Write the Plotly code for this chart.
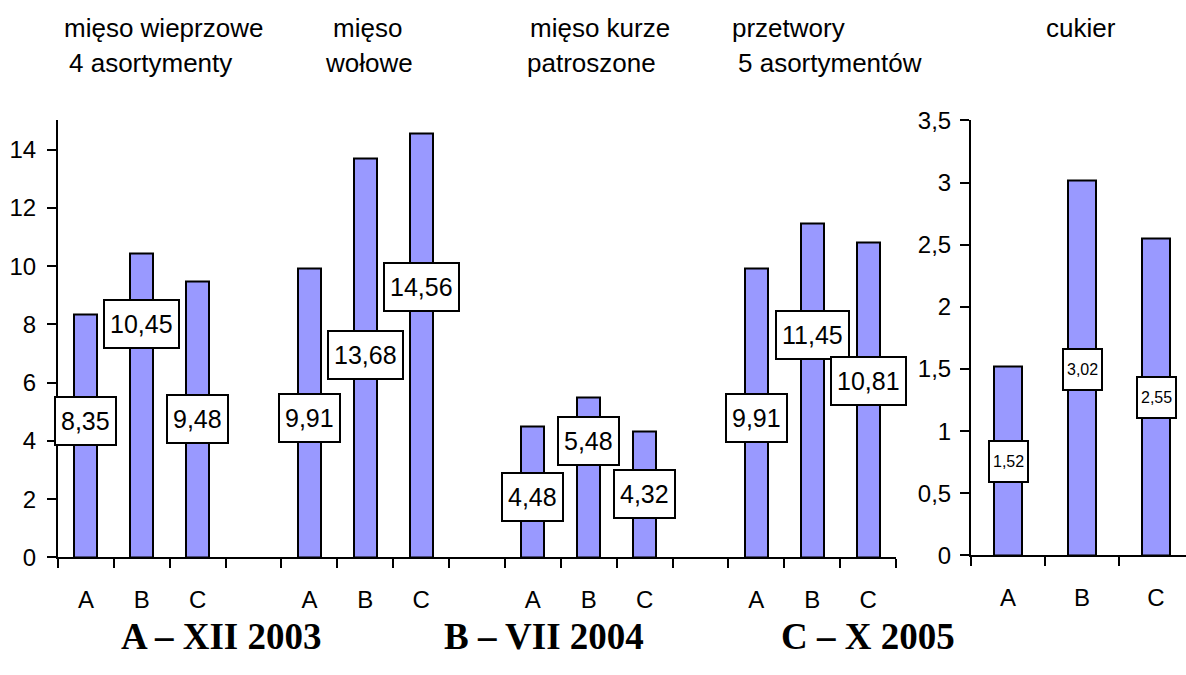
import plotly.graph_objects as go

# ---- data ----
groups = ["mięso wieprzowe", "mięso wołowe", "mięso kurze patroszone", "przetwory"]
periods = ["A", "B", "C"]
pork = [8.35, 10.45, 9.48]
beef = [9.91, 13.68, 14.56]
chicken = [4.48, 5.48, 4.32]
processed = [9.91, 11.45, 10.81]
sugar = [1.52, 3.02, 2.55]
left_series = [pork, beef, chicken, processed]
# label box vertical positions (data units)
label_y_left = [[4.7, 8.0, 4.76], [4.78, 6.95, 9.29], [2.06, 3.99, 2.17], [4.8, 7.64, 6.05]]
label_y_sugar = [0.76, 1.5, 1.27]
legend_items = ["A – XII 2003", "B – VII 2004", "C – X 2005"]

BAR = "#9999FF"
FONT = "Liberation Sans, Arial, sans-serif"
W, H = 1186, 675


def py(p):
    # vertical pixel (from top) -> paper fraction, compensating the observed render compression
    return 1 - (338 + (p - 338) / 0.96) / H


def fmt(v):
    return f"{v:.2f}".replace(".", ",")


fig = go.Figure()

xs, ys = [], []
for g, vals in enumerate(left_series):
    for i, v in enumerate(vals):
        xs.append(g * 4 + i)
        ys.append(v)
fig.add_trace(go.Bar(x=xs, y=ys, width=0.41, marker=dict(color=BAR, line=dict(color="black", width=2)),
                     xaxis="x", yaxis="y", showlegend=False, hoverinfo="skip"))
fig.add_trace(go.Bar(x=list(range(3)), y=sugar, width=0.39, marker=dict(color=BAR, line=dict(color="black", width=2)),
                     xaxis="x2", yaxis="y2", showlegend=False, hoverinfo="skip"))

annotations = []
for g, vals in enumerate(left_series):
    for i, v in enumerate(vals):
        annotations.append(dict(x=g * 4 + i, y=label_y_left[g][i], xref="x", yref="y", text=fmt(v),
                                showarrow=False, font=dict(family=FONT, size=25, color="black"),
                                bgcolor="white", bordercolor="black", borderwidth=2, borderpad=5, height=36))
for i, v in enumerate(sugar):
    annotations.append(dict(x=i, y=label_y_sugar[i], xref="x2", yref="y2", text=fmt(v),
                            showarrow=False, font=dict(family=FONT, size=16, color="black"),
                            bgcolor="white", bordercolor="black", borderwidth=2, borderpad=3, height=33))

titles = [
    ("mięso wieprzowe", 163, 28), ("4 asortymenty", 150, 63),
    ("mięso", 367, 28), ("wołowe", 369, 63),
    ("mięso kurze", 600, 28), ("patroszone", 591, 63),
    ("przetwory", 788, 28), ("5 asortymentów", 830, 63),
    ("cukier", 1081, 28),
]
for t, px, pyy in titles:
    annotations.append(dict(x=px / W, y=py(pyy), xref="paper", yref="paper", text=t, showarrow=False,
                            xanchor="center", yanchor="middle", font=dict(family=FONT, size=26, color="black")))
for t, px in zip(legend_items, [221, 544, 868]):
    annotations.append(dict(x=px / W, y=py(636), xref="paper", yref="paper", text="<b>" + t + "</b>",
                            showarrow=False, xanchor="center", yanchor="middle",
                            font=dict(family="Liberation Serif, Times New Roman, serif", size=37, color="black")))

centers_left = list(range(15))
ticktext_left = [periods[c % 4] if c % 4 < 3 else "" for c in centers_left]

axis_common = dict(showline=True, linecolor="black", linewidth=2, showgrid=False, zeroline=False,
                   tickfont=dict(family=FONT, size=24, color="black"))

fig.update_layout(
    width=W, height=H,
    margin=dict(l=0, r=0, t=0, b=0),
    paper_bgcolor="white", plot_bgcolor="white",
    separators=", ",
    bargap=0,
    xaxis=dict(domain=[58 / W, 896 / W], range=[-0.5, 14.5], tickmode="array",
               tickvals=centers_left, ticktext=ticktext_left, ticks="", ticklabelstandoff=20,
               minor=dict(tickmode="array", tickvals=[c - 0.5 for c in range(16)], ticks="outside",
                          ticklen=9, tickwidth=2, tickcolor="black"),
               anchor="y", **axis_common),
    yaxis=dict(domain=[py(557), py(120)], range=[0, 15], tickmode="array",
               tickvals=[0, 2, 4, 6, 8, 10, 12, 14], ticks="outside", ticklen=9, tickwidth=2,
               tickcolor="black", ticklabelstandoff=6, anchor="x", **axis_common),
    xaxis2=dict(domain=[971 / W, 1.0], range=[-0.5, 2.405], tickmode="array",
                tickvals=[0, 1, 2], ticktext=periods, ticks="", ticklabelstandoff=20,
                minor=dict(tickmode="array", tickvals=[-0.5, 0.5, 1.5], ticks="outside",
                           ticklen=9, tickwidth=2, tickcolor="black"),
                anchor="y2", **axis_common),
    yaxis2=dict(domain=[py(555), py(120)], range=[0, 3.5], tickmode="array",
                tickvals=[0, 0.5, 1, 1.5, 2, 2.5, 3, 3.5], ticks="outside", ticklen=9, tickwidth=2,
                tickcolor="black", ticklabelstandoff=4, anchor="x2", **axis_common),
    annotations=annotations,
)

fig.write_html("out.html", config={"displayModeBar": False},
               post_script="document.body.style.margin='0px';")
